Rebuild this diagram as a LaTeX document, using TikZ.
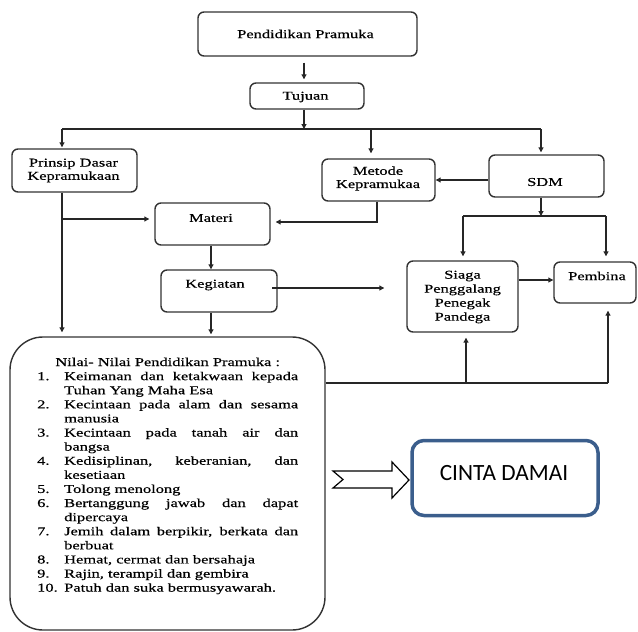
\documentclass[tikz,border=0pt]{standalone}
\usepackage{fontspec}
\setmainfont{Liberation Serif}[FakeStretch=1.37,FakeBold=0.5]
\newfontfamily\calfont{Carlito}
\usetikzlibrary{arrows.meta,calc}
\definecolor{cdblue}{RGB}{59,94,140}
\definecolor{edgegray}{RGB}{50,50,50}
\newcommand\nvitem[2]{\par\noindent\hangindent=27pt\hangafter=1\makebox[27pt][l]{#1}#2\par}
\tikzset{
 box/.style={draw=edgegray,line width=1.4pt,rounded corners=6pt,inner sep=0pt},
 lbl/.style={font=\fontsize{12}{13.8}\selectfont,align=center,inner sep=0pt},
 conn/.style={draw=black!85,line width=1.1pt},
 arr/.style={conn,-{Triangle[length=5pt,width=5pt]}},
}
\begin{document}
\begin{tikzpicture}[x=1pt,y=-1pt]
\useasboundingbox (0,0) rectangle (638,632);
% boxes
\node[box,minimum width=219pt,minimum height=44pt] (pp) at (307.5,34) {};
\node[box,minimum width=114pt,minimum height=26pt] (tujuan) at (307,96) {};
\node[box,minimum width=125pt,minimum height=43pt] (prinsip) at (74.5,170.5) {};
\node[box,minimum width=113pt,minimum height=42pt] (metode) at (378.5,180) {};
\node[box,minimum width=115pt,minimum height=42pt] (sdm) at (546.5,176) {};
\node[box,minimum width=115pt,minimum height=42pt] (materi) at (212.5,224) {};
\node[box,minimum width=116pt,minimum height=42pt] (kegiatan) at (219,291) {};
\node[box,minimum width=111pt,minimum height=71pt] (siaga) at (462.5,296.5) {};
\node[box,minimum width=82pt,minimum height=41pt] (pembina) at (595,282.5) {};
\node[box,rounded corners=33pt,minimum width=315pt,minimum height=293pt] (nilai) at (167.5,483.5) {};
\node[draw=cdblue,line width=3.5pt,rounded corners=12pt,minimum width=186pt,minimum height=75pt,inner sep=0pt] (cinta) at (505,478) {};
% labels
\node[lbl] (ppt) at (305.5,34) {Pendidikan Pramuka};
\node[lbl] (tjt) at (305.5,97) {Tujuan};
\node[lbl,font=\fontsize{12}{13.2}\selectfont] (prt) at (73.5,170.5) {Prinsip Dasar\\Kepramukaan};
\node[lbl,font=\fontsize{12}{13.2}\selectfont] (mtt) at (378,178.5) {Metode\\Kepramukaa};
\node[lbl] (sdt) at (545,182) {SDM};
\node[lbl] (mat) at (211,218) {Materi};
\node[lbl] (kgt) at (215,285) {Kegiatan};
\node[lbl,font=\fontsize{12}{14}\selectfont] (sgt) at (462.5,297) {Siaga\\Penggalang\\Penegak\\Pandega};
\node[lbl] (pbt) at (597,276) {Pembina};
\node[inner sep=0pt,font=\calfont\fontsize{23.3}{26}\selectfont] (cdt) at (504,473) {CINTA DAMAI};
\node[anchor=north west,inner sep=0pt,text width=261pt,align=justify,font=\fontsize{12}{14.1}\selectfont] (nlt) at (37,357.5) {\hyphenpenalty=10000\exhyphenpenalty=10000
{\centering Nilai- Nilai Pendidikan Pramuka :\par}
\nvitem{1.}{Keimanan dan ketakwaan kepada\linebreak Tuhan Yang Maha Esa}
\nvitem{2.}{Kecintaan pada alam dan sesama\linebreak manusia}
\nvitem{3.}{Kecintaan pada tanah air dan\linebreak bangsa}
\nvitem{4.}{Kedisiplinan, keberanian, dan\linebreak kesetiaan}
\nvitem{5.}{Tolong menolong}
\nvitem{6.}{Bertanggung jawab dan dapat\linebreak dipercaya}
\nvitem{7.}{Jemih dalam berpikir, berkata dan\linebreak berbuat}
\nvitem{8.}{Hemat, cermat dan bersahaja}
\nvitem{9.}{Rajin, terampil dan gembira}
\nvitem{10.}{Patuh dan suka bermusyawarah.}};
% hollow notched arrow
\draw[line width=1.2pt,fill=white,line join=miter] (333,471) -- (392,471) -- (392,462) -- (409,480) -- (392,498) -- (392,488) -- (333,488) -- (343,479.5) -- cycle;
% connectors
\coordinate (j1) at (304,129);
\coordinate (jl) at (62,129);
\coordinate (jm) at (371,129);
\coordinate (jr) at (541,129);
\draw[arr,shorten <=6pt,shorten >=3pt] (pp.south -| j1) -- (tujuan.north -| j1);
\draw[arr] (tujuan.south -| j1) -- (j1);
\draw[conn] (jl) -- (jr);
\draw[arr,shorten >=1pt] (jl) -- (prinsip.north -| jl);
\draw[arr,shorten >=5pt] (jm) -- (metode.north -| jm);
\draw[arr,shorten >=2pt] (jr) -- (sdm.north -| jr);
\draw[arr] (sdm.west |- metode.east) -- (metode.east);
\draw[arr,shorten >=4pt] (prinsip.south -| jl) -- (nilai.north -| jl);
\coordinate (b1) at (62,219);
\draw[arr,shorten >=5pt] (b1) -- (b1 -| materi.west);
\coordinate (m1) at (377,222);
\draw[arr,shorten >=5pt] (metode.south -| m1) -- (m1) -- (m1 -| materi.east);
\coordinate (kx) at (211,0);
\draw[arr] (materi.south -| kx) -- (kegiatan.north -| kx);
\draw[arr,shorten >=2pt] (kegiatan.south -| kx) -- (nilai.north -| kx);
\coordinate (ky) at (272,288);
\draw[arr,shorten >=22pt] (ky) -- (ky -| siaga.west);
\coordinate (s1) at (541,216);
\coordinate (s2) at (463,216);
\coordinate (s3) at (606,216);
\draw[arr] (sdm.south -| s1) -- (s1);
\draw[conn] (s2) -- (s3);
\draw[arr,shorten >=4pt] (s2) -- (siaga.north -| s2);
\draw[arr,shorten >=5pt] (s3) -- (pembina.north -| s3);
\coordinate (sp) at (518,280);
\draw[arr] (siaga.east |- sp) -- (pembina.west |- sp);
\coordinate (n1) at (325,383);
\coordinate (n2) at (608,383);
\coordinate (n3) at (466,383);
\draw[conn] (nilai.east |- n1) -- (n2);
\draw[arr,shorten >=7pt] (n2) -- (pembina.south -| n2);
\draw[arr,shorten >=5pt] (n3) -- (siaga.south -| n3);
\end{tikzpicture}
\end{document}
